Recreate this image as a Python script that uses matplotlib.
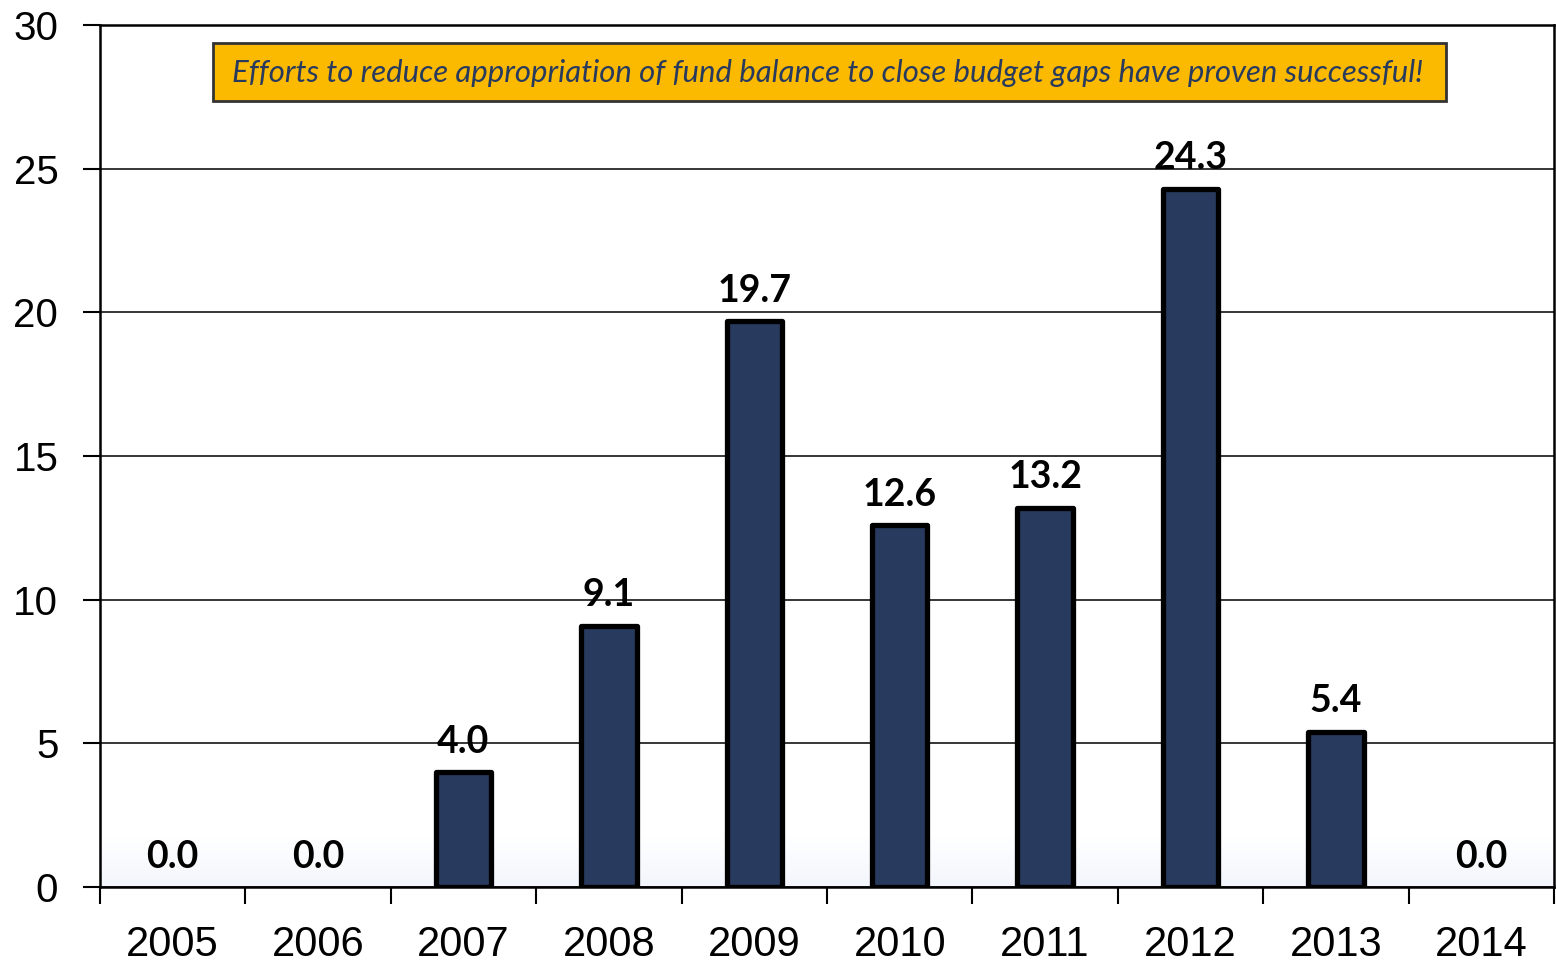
import matplotlib.pyplot as plt
import numpy as np
from matplotlib.patches import Rectangle
from matplotlib.colors import LinearSegmentedColormap

years = ["2005", "2006", "2007", "2008", "2009", "2010", "2011", "2012", "2013", "2014"]
values = [0.0, 0.0, 4.0, 9.1, 19.7, 12.6, 13.2, 24.3, 5.4, 0.0]
note = "Efforts to reduce appropriation of fund balance to close budget gaps have proven successful!"

fig = plt.figure(figsize=(15.56, 9.63), dpi=100)
ax = fig.add_axes([100 / 1556, 1 - 887 / 963, 1454 / 1556, 862 / 963])

x = np.arange(len(years))

# faint blue tint near the floor of the plot
grad = LinearSegmentedColormap.from_list("g", ["#ffffff", "#f3f6fd"])
ax.imshow(np.linspace(0, 1, 100).reshape(-1, 1), cmap=grad, aspect="auto",
          extent=(-0.5, 9.5, 0, 1.8), origin="upper", zorder=0)

bars = ax.bar(x, values, width=0.38, color="#283a5e", edgecolor="black",
              linewidth=3.8, zorder=3)
for b, v in zip(bars, values):
    b.set_joinstyle("round")
    if v == 0:
        b.set_linewidth(0)

for xi, v in zip(x, values):
    ax.annotate(f"{v:.1f}", (xi, v), xytext=(0, 14), textcoords="offset points",
                ha="center", va="baseline", fontsize=27, fontweight="bold",
                family="Lato", zorder=5)

ax.set_xlim(-0.5, 9.5)
ax.set_ylim(0, 30)
ax.set_yticks(range(0, 31, 5))
ax.yaxis.grid(True, color="black", linewidth=1.1, zorder=1)
ax.set_axisbelow(True)

ax.set_xticks(np.arange(-0.5, 10, 1))
ax.set_xticklabels([])
ax.set_xticks(x, minor=True)
ax.set_xticklabels(years, minor=True, fontsize=30, family="Liberation Sans")
ax.tick_params(axis="x", which="major", length=12, width=1.5, direction="out")
ax.tick_params(axis="x", which="minor", length=0, pad=27)
ax.tick_params(axis="y", length=12, width=1.5, pad=18, labelsize=29)
for lab in ax.get_yticklabels():
    lab.set_family("Liberation Sans")

for s in ax.spines.values():
    s.set_linewidth(1.8)

box = Rectangle((113 / 1454, 786 / 862), 1233 / 1454, 58 / 862, transform=ax.transAxes,
                facecolor="#fbba00", edgecolor="#333333", linewidth=2, zorder=6)
ax.add_patch(box)
ax.text(728 / 1454, 814 / 862, note, transform=ax.transAxes, ha="center", va="center",
        fontsize=22.4, style="italic", family="Lato", color="#283a5e", zorder=7)

fig.savefig("out.png", dpi=100)
